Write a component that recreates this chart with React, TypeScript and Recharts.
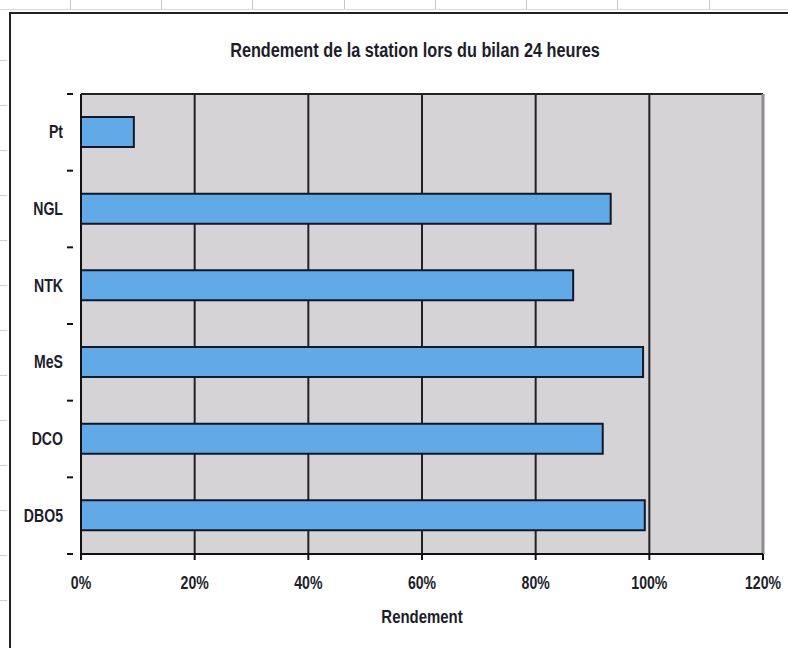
import React from 'react';
import { BarChart, Bar, XAxis, YAxis, CartesianGrid, ReferenceLine } from 'recharts';

const categories = ['Pt', 'NGL', 'NTK', 'MeS', 'DCO', 'DBO5'];
const rendement = [0.093, 0.932, 0.866, 0.989, 0.918, 0.992];
const xTicks = [0, 0.2, 0.4, 0.6, 0.8, 1.0, 1.2];

const data = categories.map((name, i) => ({ name, value: rendement[i] }));

const FONT = '"Liberation Sans Narrow", "Arial Narrow", "Liberation Sans", Arial, sans-serif';
const TEXT = '#1d1d2b';
const SX = 0.83;

const W = 788;
const H = 648;
const M = { top: 94, right: 25, bottom: 70, left: 8 };
const Y_W = 73;
const X_H = 24;
const PLOT_H = H - M.top - M.bottom - X_H;
const BAND = PLOT_H / categories.length;

const YTick = (props: any) => {
  const { x, y, payload, index } = props;
  return (
    <g>
      <text
        transform={`translate(${x - 10},${y + 6}) scale(${SX},1.05)`}
        textAnchor="end"
        fontFamily={FONT}
        fontWeight="bold"
        fontSize={17}
        fill={TEXT}
      >
        {payload.value}
      </text>
      <line x1={x - 6} x2={x} y1={y - BAND / 2} y2={y - BAND / 2} stroke="#111" strokeWidth={2} />
      {index === categories.length - 1 && (
        <line x1={x - 6} x2={x} y1={y + BAND / 2} y2={y + BAND / 2} stroke="#111" strokeWidth={2} />
      )}
    </g>
  );
};

const XTick = (props: any) => {
  const { x, y, payload } = props;
  return (
    <text
      transform={`translate(${x},${y + 27}) scale(${SX},1.05)`}
      textAnchor="middle"
      fontFamily={FONT}
      fontWeight="bold"
      fontSize={17}
      fill={TEXT}
    >
      {`${Math.round(payload.value * 100)}%`}
    </text>
  );
};

const AxisTitle = (props: any) => {
  const vb = props.viewBox || {};
  const cx = vb.x + vb.width / 2;
  const by = vb.y + 69;
  return (
    <text
      transform={`translate(${cx},${by}) scale(${SX},1.05)`}
      textAnchor="middle"
      fontFamily={FONT}
      fontWeight="bold"
      fontSize={18}
      fill={TEXT}
    >
      Rendement
    </text>
  );
};

const sheetCols = [70, 161, 252, 344, 435, 526, 617, 709];
const sheetRows = [60, 105, 150, 195, 240, 285, 330, 375, 420, 465, 510, 555, 600];

export default function App() {
  return (
    <div style={{ position: 'absolute', left: 0, top: 0, width: W, height: H, background: '#fff', overflow: 'hidden' }}>
      {sheetCols.map((c) => (
        <div key={c} style={{ position: 'absolute', left: c, top: 0, width: 1, height: 10, background: '#c8c8c8' }} />
      ))}
      <div style={{ position: 'absolute', left: 0, top: 9, width: W, height: 1, background: '#d8d8d8' }} />
      {sheetRows.map((r) => (
        <div key={r} style={{ position: 'absolute', left: 0, top: r, width: 7, height: 1, background: '#cfcfcf' }} />
      ))}
      <div style={{ position: 'absolute', left: 9, top: 12, width: W, height: H, border: '2px solid #222', boxSizing: 'border-box' }} />
      <div
        style={{
          position: 'absolute',
          left: 0,
          top: 38,
          width: 830,
          textAlign: 'center',
          fontFamily: FONT,
          fontWeight: 'bold',
          fontSize: 20,
          lineHeight: '23px',
          color: TEXT,
          transform: `scale(${SX * 0.98}, 1.05)`,
          transformOrigin: '415px 0',
        }}
      >
        Rendement de la station lors du bilan 24 heures
      </div>
      <div style={{ position: 'absolute', left: 0, top: 0 }}>
        <BarChart width={W} height={H} data={data} layout="vertical" margin={M}>
          <CartesianGrid
            horizontal={{ stroke: '#8c8c8c', strokeWidth: 1.5 }}
            horizontalCoordinatesGenerator={({ offset }: any) => [offset.top]}
            vertical={true}
            stroke="#222"
            strokeWidth={2}
            fill="#d6d3d6"
            fillOpacity={1}
          />
          <ReferenceLine x={1.2} stroke="#8c8c8c" strokeWidth={3} />
          <XAxis
            type="number"
            domain={[0, 1.2]}
            ticks={xTicks}
            height={X_H}
            interval={0}
            axisLine={{ stroke: '#111', strokeWidth: 2 }}
            tickLine={{ stroke: '#111', strokeWidth: 2 }}
            tickSize={6}
            tick={<XTick />}
            label={<AxisTitle />}
          />
          <YAxis
            type="category"
            dataKey="name"
            width={Y_W}
            axisLine={{ stroke: '#111', strokeWidth: 2 }}
            tickLine={false}
            tick={<YTick />}
            interval={0}
          />
          <Bar dataKey="value" fill="#62a9e8" stroke="#10192b" strokeWidth={2} barSize={30} isAnimationActive={false} />
        </BarChart>
      </div>
    </div>
  );
}
